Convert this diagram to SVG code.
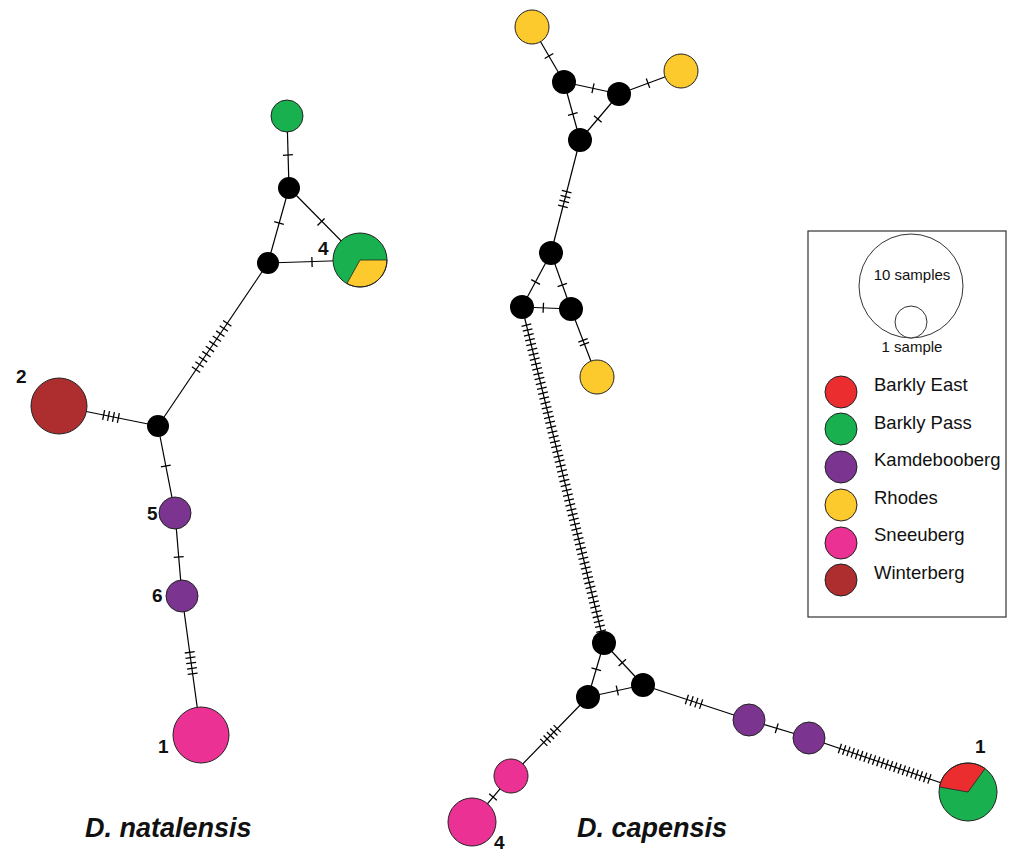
<svg xmlns="http://www.w3.org/2000/svg" width="1024" height="865" viewBox="0 0 1024 865">
<style>
.e{stroke:#000;stroke-width:1.2;fill:none}
.tk{stroke:#000;stroke-width:10;fill:none}
.h5{stroke-dasharray:1.3 3.7}
.n{stroke:#222;stroke-width:1}
.blk{fill:#000}
.be{fill:#EC2D30}
.bp{fill:#19B14F}
.ka{fill:#7B3590}
.rh{fill:#FDCA2D}
.sn{fill:#EC3195}
.wi{fill:#AE2D2E}
.lab{font-family:"Liberation Sans",Arial,sans-serif;font-weight:bold;font-size:19px;fill:#111}
.ttl{font-family:"Liberation Sans",Arial,sans-serif;font-weight:bold;font-style:italic;font-size:27px;fill:#111}
.lg{font-family:"Liberation Sans",Arial,sans-serif;font-size:18.5px;fill:#111}
.sm{font-family:"Liberation Sans",Arial,sans-serif;font-size:15px;fill:#111;text-anchor:middle}
</style>
<rect width="1024" height="865" fill="#fff"/>
<g id="connectors">
<line class="e" x1="287" y1="116" x2="289" y2="188"/>
<line class="e" x1="289" y1="188" x2="268" y2="263"/>
<line class="e" x1="289" y1="188" x2="360" y2="260"/>
<line class="e" x1="268" y1="263" x2="360" y2="260"/>
<line class="e" x1="268" y1="263" x2="158" y2="426"/>
<line class="e" x1="59" y1="406" x2="158" y2="426"/>
<line class="e" x1="158" y1="426" x2="175" y2="513"/>
<line class="e" x1="175" y1="513" x2="182" y2="596"/>
<line class="e" x1="182" y1="596" x2="201" y2="735"/>
<line class="e" x1="532" y1="27" x2="564" y2="82"/>
<line class="e" x1="564" y1="82" x2="619" y2="94"/>
<line class="e" x1="619" y1="94" x2="681" y2="71"/>
<line class="e" x1="564" y1="82" x2="580" y2="140"/>
<line class="e" x1="619" y1="94" x2="580" y2="140"/>
<line class="e" x1="580" y1="140" x2="551" y2="253"/>
<line class="e" x1="551" y1="253" x2="522" y2="307"/>
<line class="e" x1="551" y1="253" x2="571" y2="309"/>
<line class="e" x1="522" y1="307" x2="571" y2="309"/>
<line class="e" x1="571" y1="309" x2="597" y2="377"/>
<line class="e" x1="522" y1="307" x2="604" y2="643"/>
<line class="e" x1="604" y1="643" x2="588" y2="697"/>
<line class="e" x1="604" y1="643" x2="643" y2="685"/>
<line class="e" x1="588" y1="697" x2="643" y2="685"/>
<line class="e" x1="643" y1="685" x2="749" y2="720"/>
<line class="e" x1="749" y1="720" x2="809" y2="738"/>
<line class="e" x1="809" y1="738" x2="968" y2="792"/>
<line class="e" x1="588" y1="697" x2="511" y2="776"/>
<line class="e" x1="511" y1="776" x2="472" y2="822"/>
<!-- mutation ticks -->
<line class="tk" x1="287.9" y1="154.4" x2="288" y2="155.7"/>
<line class="tk" x1="279.18" y1="222.37" x2="278.82" y2="223.63"/>
<line class="tk" x1="320.54" y1="221.54" x2="321.46" y2="222.46"/>
<line class="tk" x1="311.35" y1="262.02" x2="312.65" y2="261.98"/>
<line class="tk" style="stroke-dasharray:1.3 4.9" x1="227.62" y1="322.83" x2="195.68" y2="370.17"/>
<line class="tk h5" x1="103.0" y1="414.9" x2="119.0" y2="418.1"/>
<line class="tk" x1="165.68" y1="465.36" x2="165.93" y2="466.64"/>
<line class="tk" x1="178.65" y1="556.35" x2="178.75" y2="557.65"/>
<line class="tk" style="stroke-dasharray:1.3 4.1" x1="189.65" y1="651.66" x2="192.75" y2="674.34"/>
<line class="tk" x1="548.67" y1="55.44" x2="549.33" y2="56.56"/>
<line class="tk" x1="592.37" y1="88.16" x2="593.63" y2="88.44"/>
<line class="tk" x1="647.39" y1="83.43" x2="648.61" y2="82.97"/>
<line class="tk" x1="572.63" y1="113.37" x2="572.97" y2="114.63"/>
<line class="tk" x1="598.22" y1="118.5" x2="597.38" y2="119.5"/>
<line class="tk h5" x1="566.83" y1="191.11" x2="562.77" y2="206.89"/>
<line class="tk" x1="535.9" y1="281.43" x2="535.3" y2="282.57"/>
<line class="tk" x1="562.08" y1="284.39" x2="562.52" y2="285.61"/>
<line class="tk" x1="542.65" y1="307.67" x2="543.95" y2="307.73"/>
<line class="tk" style="stroke-dasharray:1.3 2.7" x1="582.75" y1="339.83" x2="584.65" y2="344.78"/>
<line class="tk h5" x1="526.27" y1="324.49" x2="601.26" y2="631.74"/>
<line class="tk" x1="596.39" y1="668.68" x2="596.02" y2="669.92"/>
<line class="tk" x1="621.86" y1="662.22" x2="622.74" y2="663.18"/>
<line class="tk" x1="616.67" y1="690.74" x2="617.94" y2="690.46"/>
<line class="tk h5" x1="686.26" y1="699.24" x2="701.74" y2="704.36"/>
<line class="tk" x1="776.08" y1="728.11" x2="777.32" y2="728.49"/>
<line class="tk" style="stroke-dasharray:1.3 3.2" x1="839.3" y1="748.29" x2="930.03" y2="779.1"/>
<line class="tk" style="stroke-dasharray:1.3 3.5" x1="557.65" y1="728.16" x2="543.35" y2="742.84"/>
<line class="tk" x1="493.42" y1="796.5" x2="492.58" y2="797.5"/>
</g>
<g id="natalensis-nodes">
<g id="n-green"><circle class="n bp" cx="287" cy="116" r="16"/></g>
<g id="n-A"><circle class="blk" cx="289" cy="188" r="11"/></g>
<g id="n-B"><circle class="blk" cx="268" cy="263" r="11"/></g>
<g id="n-pie4">
<circle class="bp" cx="360" cy="260" r="27"/>
<path class="rh" d="M360,260 L387,260 A27,27 0 0,1 346.9,283.6 Z" stroke="#222" stroke-width="0.8"/>
<circle cx="360" cy="260" r="27" fill="none" stroke="#222" stroke-width="1"/>
<text class="lab" x="318" y="255">4</text>
</g>
<g id="n-C"><circle class="blk" cx="158" cy="426" r="11"/></g>
<g id="n-winter"><circle class="n wi" cx="59" cy="406" r="28"/><text class="lab" x="16" y="383">2</text></g>
<g id="n-k5"><circle class="n ka" cx="175" cy="513" r="16"/><text class="lab" x="147" y="520">5</text></g>
<g id="n-k6"><circle class="n ka" cx="182" cy="596" r="16"/><text class="lab" x="152" y="602">6</text></g>
<g id="n-s1"><circle class="n sn" cx="201" cy="735" r="28"/><text class="lab" x="158" y="753">1</text></g>
</g>
<g id="capensis-nodes">
<g id="c-y1"><circle class="n rh" cx="532" cy="27" r="17"/></g>
<g id="c-D"><circle class="blk" cx="564" cy="82" r="12"/></g>
<g id="c-E"><circle class="blk" cx="619" cy="94" r="12"/></g>
<g id="c-y2"><circle class="n rh" cx="681" cy="71" r="17"/></g>
<g id="c-F"><circle class="blk" cx="580" cy="140" r="12"/></g>
<g id="c-G"><circle class="blk" cx="551" cy="253" r="12"/></g>
<g id="c-H"><circle class="blk" cx="522" cy="307" r="12"/></g>
<g id="c-I"><circle class="blk" cx="571" cy="309" r="12"/></g>
<g id="c-y3"><circle class="n rh" cx="597" cy="377" r="17"/></g>
<g id="c-J"><circle class="blk" cx="604" cy="643" r="12"/></g>
<g id="c-K"><circle class="blk" cx="588" cy="697" r="12"/></g>
<g id="c-L"><circle class="blk" cx="643" cy="685" r="12"/></g>
<g id="c-m"><circle class="n ka" cx="749" cy="720" r="16"/></g>
<g id="c-n"><circle class="n ka" cx="809" cy="738" r="16"/></g>
<g id="c-pie1">
<circle class="bp" cx="968" cy="792" r="29"/>
<path class="be" d="M968,792 L939.44,786.96 A29,29 0 0,1 985.05,768.54 Z" stroke="#222" stroke-width="0.8"/>
<circle cx="968" cy="792" r="29" fill="none" stroke="#222" stroke-width="1"/>
<text class="lab" x="975" y="753">1</text>
</g>
<g id="c-s2"><circle class="n sn" cx="511" cy="776" r="17"/></g>
<g id="c-s3"><circle class="n sn" cx="472" cy="822" r="24"/><text class="lab" x="494" y="849">4</text></g>
</g>
<g id="titles">
<text class="ttl" x="85" y="837">D. natalensis</text>
<text class="ttl" x="577" y="837">D. capensis</text>
</g>
<g id="legend">
<rect x="808" y="231" width="198" height="386" fill="#fff" stroke="#333" stroke-width="1.2"/>
<circle cx="911" cy="286" r="52" fill="#fff" stroke="#333" stroke-width="1"/>
<circle cx="911" cy="322" r="16" fill="#fff" stroke="#333" stroke-width="1"/>
<text class="sm" x="912" y="280">10 samples</text>
<text class="sm" x="912" y="352">1 sample</text>
<circle class="n be" cx="841" cy="392" r="16"/>
<circle class="n bp" cx="841" cy="429" r="16"/>
<circle class="n ka" cx="841" cy="467" r="16"/>
<circle class="n rh" cx="841" cy="505" r="16"/>
<circle class="n sn" cx="841" cy="543" r="16"/>
<circle class="n wi" cx="841" cy="580" r="16"/>
<text class="lg" x="874" y="391">Barkly East</text>
<text class="lg" x="874" y="429">Barkly Pass</text>
<text class="lg" x="874" y="466">Kamdebooberg</text>
<text class="lg" x="874" y="504">Rhodes</text>
<text class="lg" x="874" y="541">Sneeuberg</text>
<text class="lg" x="874" y="579">Winterberg</text>
</g>
</svg>
